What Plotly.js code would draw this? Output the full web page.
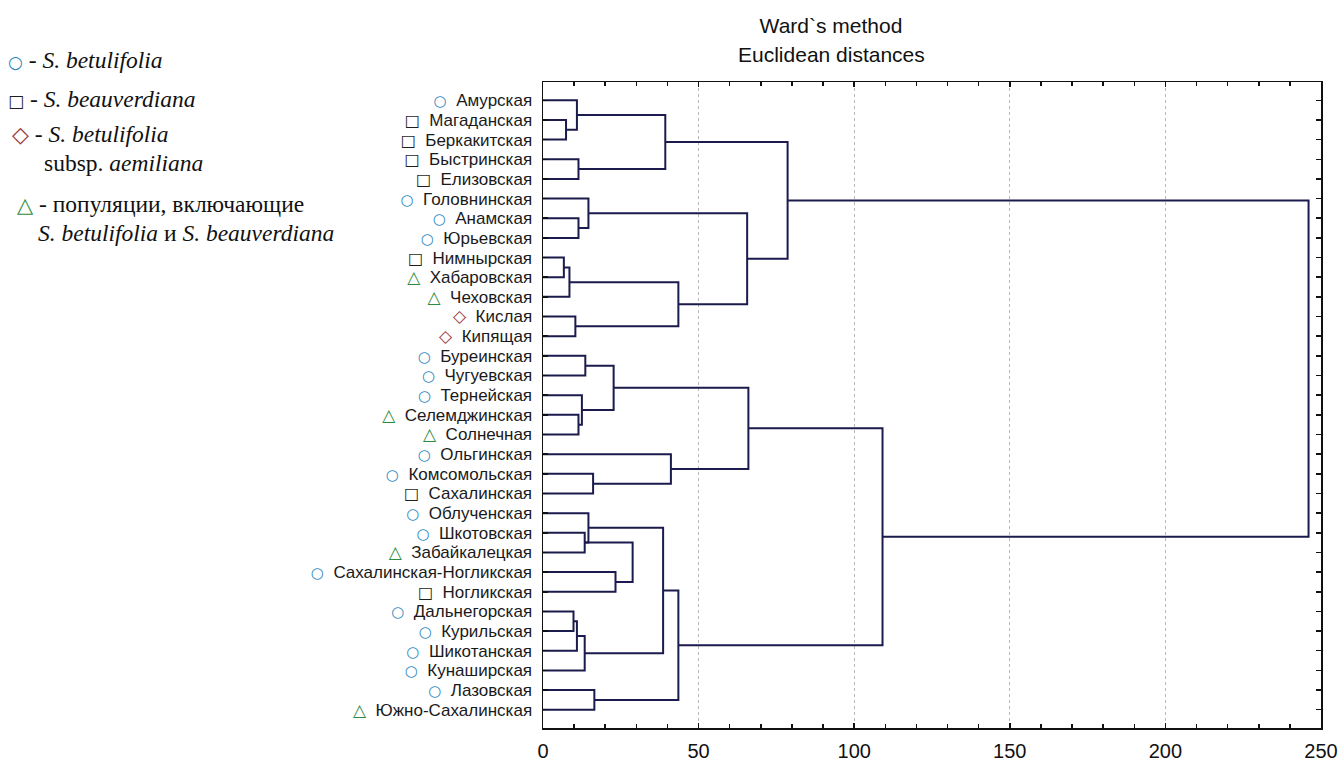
<!DOCTYPE html>
<html>
<head>
<meta charset="utf-8">
<script src="https://cdn.plot.ly/plotly-3.0.1.min.js"></script>
<style>html,body{margin:0;padding:0;background:#fff;}#chart{width:1341px;height:760px;}</style>
</head>
<body>
<div id="chart"></div>
<script>
// Leaves (top to bottom)
const leaves = ["Амурская","Магаданская","Беркакитская","Быстринская","Елизовская","Головнинская","Анамская","Юрьевская","Нимнырская","Хабаровская","Чеховская","Кислая","Кипящая","Буреинская","Чугуевская","Тернейская","Селемджинская","Солнечная","Ольгинская","Комсомольская","Сахалинская","Облученская","Шкотовская","Забайкалецкая","Сахалинская-Ногликская","Ногликская","Дальнегорская","Курильская","Шикотанская","Кунаширская","Лазовская","Южно-Сахалинская"];
// c = S. betulifolia, s = S. beauverdiana, d = subsp. aemiliana, t = mixed populations
const leafType = ["c","s","s","s","s","c","c","c","s","t","t","d","d","c","c","c","t","t","c","c","s","c","c","t","c","s","c","c","c","c","c","t"];
// Linkage: childA, childB, distance; ids >= 32 are earlier merges (32 + row index)
const mergeA = [1, 0, 3, 33, 6, 5, 8, 38, 11, 39, 37, 35, 13, 16, 15, 44, 19, 18, 47, 22, 21, 24, 51, 26, 55, 56, 52, 30, 58, 50, 43];
const mergeB = [2, 32, 4, 34, 7, 36, 9, 10, 12, 40, 41, 42, 14, 17, 45, 46, 20, 48, 49, 23, 51, 25, 53, 27, 28, 29, 57, 31, 59, 60, 61];
const mergeH = [7.4, 10.9, 11.4, 39.3, 11.4, 14.6, 6.7, 8.5, 10.4, 43.5, 65.6, 78.6, 13.6, 11.4, 12.5, 22.7, 16.1, 41.1, 66.0, 13.4, 14.6, 23.3, 28.8, 9.8, 10.9, 13.4, 38.6, 16.5, 43.5, 109.1, 246.0];
const xTicks = [0, 50, 100, 150, 200, 250];
const titleLine1 = "Ward`s method";
const titleLine2 = "Euclidean distances";

const glyph = {c: "○", s: "□", d: "◇", t: "△"};
const glyphColor = {c: "#2a86bd", s: "#1e1e1e", d: "#9c3b3b", t: "#2e8a3e"};
const glyphSize = {c: 15, s: 16, d: 17, t: 17};

// positions & heights of nodes
const N = leaves.length;
const pos = leaves.map((_, i) => i);
const hgt = leaves.map(() => 0);
const xs = [], ys = [];
for (let k = 0; k < mergeH.length; k++) {
  const a = mergeA[k], b = mergeB[k], h = mergeH[k];
  xs.push(hgt[a], h, h, hgt[b], null);
  ys.push(pos[a], pos[a], pos[b], pos[b], null);
  pos[N + k] = (pos[a] + pos[b]) / 2;
  hgt[N + k] = h;
}

const tickText = leaves.map((n, i) => {
  const t = leafType[i];
  return `<span style="color:${glyphColor[t]};font-family:DejaVu Sans;font-size:${glyphSize[t]}px">${glyph[t]}</span>\u00a0\u00a0${n}`;
});

const W = 1341, H = 760;
const L = 543, R = 1321, T = 82, B = 728;
const px = v => (v - L) / (R - L), py = v => (B - v) / (B - T);
const serif = "Liberation Serif, Times New Roman, serif";
const legendItems = [
  {x: 6, y: 60, t: `<span style="color:${glyphColor.c};font-family:DejaVu Sans;font-size:17px">○</span> - <i>S. betulifolia</i>`},
  {x: 6, y: 99, t: `<span style="color:${glyphColor.s};font-family:DejaVu Sans;font-size:17px">□</span> - <i>S. beauverdiana</i>`},
  {x: 10, y: 134, t: `<span style="color:${glyphColor.d};font-family:DejaVu Sans;font-size:22px">◇</span> - <i>S. betulifolia</i>`},
  {x: 42, y: 163, t: `subsp. <i>aemiliana</i>`},
  {x: 15, y: 204, t: `<span style="color:${glyphColor.t};font-family:DejaVu Sans;font-size:21px">△</span> - популяции, включающие`},
  {x: 36, y: 233, t: `<i>S. betulifolia</i> и <i>S. beauverdiana</i>`}
];
const annotations = legendItems.map(it => ({
  xref: "paper", yref: "paper", x: px(it.x), y: py(it.y), xanchor: "left", yanchor: "middle",
  text: it.t, showarrow: false, font: {family: serif, size: 23.5, color: "#111"}
}));
annotations.push({
  xref: "paper", yref: "paper", x: px(831), y: py(55), xanchor: "center", yanchor: "middle",
  text: titleLine2, showarrow: false, font: {family: "Liberation Sans, Arial, sans-serif", size: 21, color: "#111"}
});

const trace = {
  type: "scatter", mode: "lines", x: xs, y: ys,
  line: {color: "#1b1b4d", width: 2}, hoverinfo: "skip", showlegend: false
};

const layout = {
  width: W, height: H,
  paper_bgcolor: "#fff", plot_bgcolor: "#fff",
  margin: {l: L, r: W - R, t: T, b: H - B, autoexpand: false},
  title: {text: titleLine1, x: 831 / W, xanchor: "center", xref: "container", y: 1 - 26 / H, yanchor: "middle", yref: "container",
          font: {family: "Liberation Sans, Arial, sans-serif", size: 21, color: "#111"}},
  xaxis: {
    range: [0, 250], tickvals: xTicks, ticktext: xTicks.map(String),
    showline: true, linecolor: "#111", linewidth: 1.5, mirror: "ticks",
    ticks: "inside", ticklen: 5, tickcolor: "#111", tickwidth: 1.5,
    minor: {dtick: 10, tick0: 0, ticks: "inside", ticklen: 4, tickcolor: "#111", tickwidth: 1.5, showgrid: false},
    showgrid: true, gridcolor: "#b8b8b8", griddash: "dot", gridwidth: 1,
    zeroline: false, tickfont: {family: "Liberation Sans, Arial, sans-serif", size: 20, color: "#111"},
    ticklabelstandoff: 4
  },
  yaxis: {
    range: [N - 1 + 0.93, -0.93], tickvals: leaves.map((_, i) => i), ticktext: tickText,
    showline: true, linecolor: "#111", linewidth: 1.5, mirror: "ticks",
    ticks: "inside", ticklen: 5, tickcolor: "#111", tickwidth: 1.5,
    showgrid: false, zeroline: false,
    tickfont: {family: "Liberation Sans, Arial, sans-serif", size: 17, color: "#1a1a1a"},
    ticklabelstandoff: 6
  },
  annotations: annotations
};

Plotly.newPlot("chart", [trace], layout, {staticPlot: true, displayModeBar: false});
</script>
</body>
</html>
